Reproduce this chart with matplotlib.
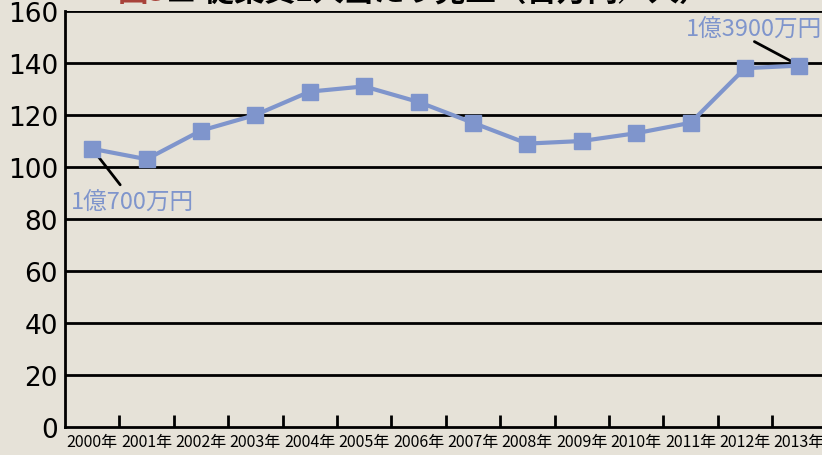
import numpy as np
import matplotlib.pyplot as plt

plt.rcParams['font.family'] = ['Noto Sans CJK JP', 'DejaVu Sans']

years = ['2000年', '2001年', '2002年', '2003年', '2004年', '2005年', '2006年',
         '2007年', '2008年', '2009年', '2010年', '2011年', '2012年', '2013年']
sales = [107, 103, 114, 120, 129, 131, 125, 117, 109, 110, 113, 117, 138, 139]
y_ticks = [0, 20, 40, 60, 80, 100, 120, 140, 160]

bg = '#e6e2d8'
blue = '#7f95cc'

fig = plt.figure(figsize=(8.22, 4.56), dpi=100, facecolor=bg)
ax = fig.add_axes([65 / 822, 28 / 456, 761.6 / 822, 416 / 456], facecolor=bg)

x = np.arange(len(years))
ax.plot(x, sales, color=blue, lw=3, marker='s', ms=11.5, mfc=blue, mec=blue,
        zorder=5, clip_on=False)

ax.set_xlim(-0.5, len(years) - 0.5)
ax.set_ylim(0, 160)
ax.set_yticks(y_ticks)
ax.set_yticklabels([str(v) for v in y_ticks], fontsize=19, family='DejaVu Sans')
ax.tick_params(axis='y', length=0, pad=5)
for v in y_ticks[1:]:
    ax.axhline(v, color='black', lw=2, zorder=1)

ax.set_xticks(x)
ax.set_xticklabels(years, fontsize=11.5)
ax.set_xticks(np.arange(0.5, len(years) - 0.5), minor=True)
ax.tick_params(axis='x', which='major', length=0, pad=4)
ax.tick_params(axis='x', which='minor', direction='in', length=9, width=2)

for side in ['top', 'right']:
    ax.spines[side].set_visible(False)
ax.spines['left'].set_linewidth(2)
ax.spines['bottom'].set_linewidth(2)

# callouts
ax.annotate('', xy=(0, sales[0]), xytext=(28, -36), textcoords='offset pixels',
            arrowprops=dict(arrowstyle='-', color='black', lw=2, shrinkA=0, shrinkB=4))
ax.annotate('1億700万円', xy=(0, sales[0]), xytext=(-21, -53),
            textcoords='offset pixels', color=blue, fontsize=17, ha='left', va='center')
ax.annotate('', xy=(13, sales[-1]), xytext=(-45, 24), textcoords='offset pixels',
            arrowprops=dict(arrowstyle='-', color='black', lw=2, shrinkA=0, shrinkB=4))
ax.annotate('1億3900万円', xy=(13, sales[-1]), xytext=(23, 36),
            textcoords='offset pixels', color=blue, fontsize=17, ha='right', va='center')

# title, mostly cut off at the top edge
fig.text(118 / 822, 1 + 8 / 456, '図3', color='#a8423a', fontsize=22,
         fontweight='bold', ha='left', va='center')
fig.text(166 / 822, 1 + 8 / 456, '■ 従業員1人当たり売上（百万円／人）', color='black',
         fontsize=22, fontweight='bold', ha='left', va='center')

fig.savefig('out.png', dpi=100, facecolor=bg)
